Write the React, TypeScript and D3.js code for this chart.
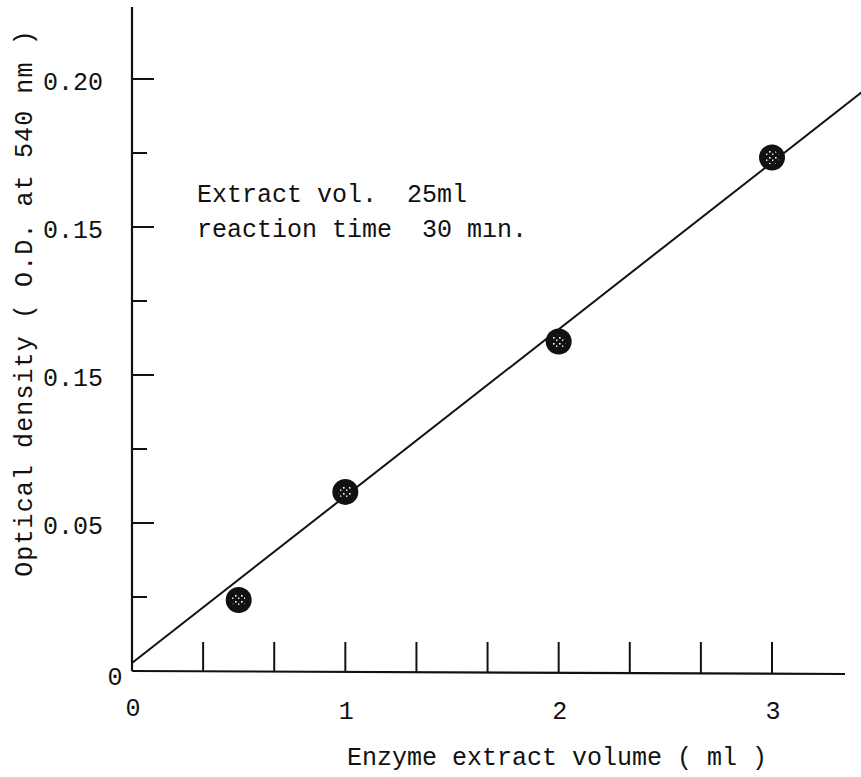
import React from "react";
import * as d3 from "d3";

// Measured points: enzyme extract volume (ml) vs optical density at 540 nm
const volumes = [0.5, 1, 2, 3];
const densities = [0.024, 0.0605, 0.1113, 0.1735];

// Fitted straight line, start and end points
const fitX = [0, 3.42];
const fitY = [0.0027, 0.1955];

// Axis ticks
const xMinorTicks = [1 / 3, 2 / 3, 1, 4 / 3, 5 / 3, 2, 7 / 3, 8 / 3, 3];
const xTickValues = [0, 1, 2, 3];
const xTickLabels = ["0", "1", "2", "3"];
const yMinorTicks = [0.025, 0.05, 0.075, 0.1, 0.125, 0.15, 0.175, 0.2];
const yTickValues = [0.05, 0.1, 0.15, 0.2];
const yTickLabels = ["0.05", "0.15", "0.15", "0.20"];

const notes = ["Extract vol.  25ml", "reaction time  30 m\u0131n."];

const W = 861;
const H = 777;
const FONT = "'Liberation Mono', 'DejaVu Sans Mono', monospace";

export default function App() {
  const x = d3.scaleLinear().domain([0, 3]).range([132, 772]);
  const y = d3.scaleLinear().domain([0, 0.2]).range([671, 79]);

  const line = d3
    .line<[number, number]>()
    .x((d) => x(d[0]))
    .y((d) => y(d[1]));
  const fitPts: [number, number][] = fitX.map((v, i) => [v, fitY[i]]);

  const x0 = x(0);
  const y0 = y(0);

  return (
    <svg
      width={W}
      height={H}
      viewBox={`0 0 ${W} ${H}`}
      style={{ position: "absolute", left: 0, top: 0, background: "#fff" }}
      fontFamily={FONT}
      fontSize={25}
      fill="#111"
    >
      <defs>
        <pattern id="speck" width="6" height="6" patternUnits="userSpaceOnUse">
          <rect width="6" height="6" fill="#111" />
          <rect x="1" y="1" width="1.6" height="1.6" fill="#fff" />
          <rect x="4" y="3.5" width="1.4" height="1.4" fill="#fff" />
        </pattern>
        <clipPath id="plotClip">
          <rect x={0} y={0} width={W} height={H} />
        </clipPath>
      </defs>

      {/* axes */}
      <line x1={x0} y1={7} x2={x0} y2={y0} stroke="#111" strokeWidth={2.2} />
      <line x1={x0} y1={y0} x2={845} y2={y0 + 3} stroke="#111" strokeWidth={2.2} />

      {/* y ticks point into the plot */}
      {yMinorTicks.map((v, i) => {
        const major = yTickValues.some((t) => Math.abs(t - v) < 1e-9);
        return (
          <line
            key={`yt${i}`}
            x1={x0}
            x2={x0 + (major ? 22 : 15)}
            y1={y(v)}
            y2={y(v)}
            stroke="#111"
            strokeWidth={2}
          />
        );
      })}
      {/* x ticks rise from the axis */}
      {xMinorTicks.map((v, i) => (
        <line
          key={`xt${i}`}
          x1={x(v)}
          x2={x(v)}
          y1={y0 + (x(v) - x0) / 240}
          y2={y0 - 29}
          stroke="#111"
          strokeWidth={2}
        />
      ))}

      {/* tick labels */}
      {yTickValues.map((v, i) => (
        <text key={`yl${i}`} x={103} y={y(v) + 11} textAnchor="end">
          {yTickLabels[i]}
        </text>
      ))}
      <text x={115} y={y0 + 14} textAnchor="middle">0</text>
      {xTickValues.map((v, i) => (
        <text key={`xl${i}`} x={x(v) + 1} y={i === 0 ? 716 : 719} textAnchor="middle">
          {xTickLabels[i]}
        </text>
      ))}

      {/* axis titles */}
      <text x={557} y={765} textAnchor="middle">
        Enzyme extract volume ( ml )
      </text>
      <text
        transform="translate(32,303) rotate(-90)"
        textAnchor="middle"
        letterSpacing={1.1}
      >
        Optical density ( O.D. at 540 nm )
      </text>

      {/* conditions */}
      {notes.map((t, i) => (
        <text key={`n${i}`} x={197} y={202 + i * 35} xmlSpace="preserve" style={{ whiteSpace: "pre" }}>
          {t}
        </text>
      ))}

      {/* fitted line */}
      <path
        d={line(fitPts) ?? ""}
        fill="none"
        stroke="#111"
        strokeWidth={2}
        clipPath="url(#plotClip)"
      />

      {/* measured points */}
      {volumes.map((v, i) => (
        <g key={`p${i}`}>
          <circle cx={x(v)} cy={y(densities[i])} r={13} fill="#111" />
          <circle cx={x(v)} cy={y(densities[i])} r={7} fill="url(#speck)" />
        </g>
      ))}
    </svg>
  );
}
